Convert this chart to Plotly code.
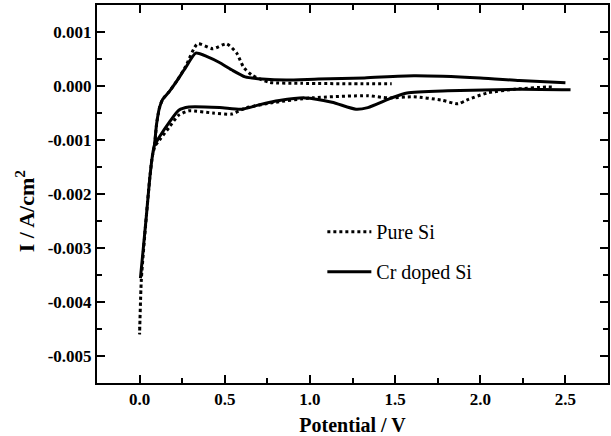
import plotly.graph_objects as go

# ---- Pure Si (dotted): cathodic branch (high -> 0 V), then anodic branch (0 V -> 1.5 V)
pure_cat_x = [2.42, 2.39, 2.20, 2.04, 1.92, 1.87, 1.77, 1.61, 1.46, 1.34, 1.01, 0.80, 0.62, 0.54,
              0.43, 0.29, 0.23, 0.175, 0.117, 0.087, 0.075, 0.06, 0.04, 0.01, 0.0]
pure_cat_y = [-0.00002, -0.00002, -0.00006, -0.00013, -0.00026, -0.00033, -0.00026, -0.00020, -0.00022,
              -0.00018, -0.00022, -0.00030, -0.00041, -0.00052, -0.00050, -0.00046, -0.00054, -0.00076,
              -0.00100, -0.00113, -0.00130, -0.00170, -0.00240, -0.00360, -0.00460]
pure_an_x = [0.0, 0.01, 0.04, 0.06, 0.075, 0.087, 0.10, 0.117, 0.135, 0.175, 0.22, 0.27, 0.34, 0.43,
             0.51, 0.57, 0.61, 0.66, 0.76, 0.95, 1.34, 1.48]
pure_an_y = [-0.00460, -0.00360, -0.00240, -0.00170, -0.00130, -0.00113, -0.00070, -0.00040, -0.00025,
             -0.00010, 0.00010, 0.00036, 0.00078, 0.00069, 0.00078, 0.00061, 0.00035, 0.00020, 0.00007,
             0.00005, 0.00004, 0.00004]

# ---- Cr doped Si (solid)
cr_cat_x = [2.53, 2.23, 1.81, 1.57, 1.48, 1.34, 1.27, 1.13, 0.97, 0.82, 0.70, 0.60, 0.47, 0.29,
            0.23, 0.175, 0.117, 0.087, 0.075, 0.06, 0.04, 0.005]
cr_cat_y = [-0.00007, -0.00006, -0.00009, -0.00013, -0.00022, -0.00040, -0.00043, -0.00030, -0.00022,
            -0.00027, -0.00035, -0.00043, -0.00040, -0.00039, -0.00045, -0.00067, -0.00094, -0.00110,
            -0.00130, -0.00170, -0.00240, -0.00356]
cr_an_x = [0.005, 0.04, 0.06, 0.075, 0.087, 0.10, 0.117, 0.135, 0.175, 0.22, 0.27, 0.33, 0.40, 0.466,
           0.54, 0.62, 0.72, 0.86, 1.05, 1.32, 1.61, 2.00, 2.23, 2.50]
cr_an_y = [-0.00356, -0.00240, -0.00170, -0.00130, -0.00110, -0.00070, -0.00040, -0.00025, -0.00010,
           0.00010, 0.00034, 0.00061, 0.00054, 0.00044, 0.00030, 0.00017, 0.00013, 0.00011, 0.00013,
           0.00015, 0.00019, 0.00015, 0.00010, 0.00006]

x_ticks = [0.0, 0.5, 1.0, 1.5, 2.0, 2.5]
y_ticks = [0.001, 0.0, -0.001, -0.002, -0.003, -0.004, -0.005]

SERIF = "Liberation Serif"

fig = go.Figure()
fig.add_trace(go.Scatter(x=pure_cat_x + pure_an_x, y=pure_cat_y + pure_an_y, mode="lines",
                         name="Pure Si", legendgroup="a",
                         line=dict(color="black", width=3, dash="dot", shape="spline", smoothing=0.6)))
fig.add_trace(go.Scatter(x=cr_cat_x + cr_an_x, y=cr_cat_y + cr_an_y, mode="lines",
                         name="Cr doped Si", legendgroup="b",
                         line=dict(color="black", width=3, shape="spline", smoothing=0.6)))

fig.update_xaxes(range=[-0.25, 2.75], tickvals=x_ticks, ticktext=[f"<b>{v:.1f}</b>" for v in x_ticks],
                 showline=True, linecolor="black", linewidth=2, mirror="ticks",
                 ticks="inside", ticklen=8, tickwidth=1.5, tickcolor="black",
                 showgrid=False, zeroline=False,
                 tickfont=dict(family=SERIF, size=17, color="black"),
                 minor=dict(dtick=0.25, ticks="inside", ticklen=5, tickcolor="black", tickwidth=1.5),
                 title=dict(text="<b>Potential / V</b>", font=dict(family=SERIF, size=20, color="black"),
                            standoff=10))
fig.update_yaxes(range=[-0.0055, 0.0015], tickvals=y_ticks, ticktext=[f"<b>{v:.3f}</b>" for v in y_ticks],
                 showline=True, linecolor="black", linewidth=2, mirror="ticks",
                 ticks="inside", ticklen=8, tickwidth=1.5, tickcolor="black",
                 showgrid=False, zeroline=False,
                 tickfont=dict(family=SERIF, size=17, color="black"),
                 minor=dict(dtick=0.0005, ticks="inside", ticklen=5, tickcolor="black", tickwidth=1.5))

# y-axis title placed as rotated text (sits slightly below the plot centre in the reference)
fig.add_annotation(text="<b>I / A/cm<sup>2</sup></b>", xref="paper", yref="paper",
                   x=-0.1404, y=0.455, xanchor="center", yanchor="middle", textangle=-90,
                   showarrow=False, font=dict(family=SERIF, size=22, color="black"))

fig.update_layout(width=611, height=436, margin=dict(l=97, r=1, t=5, b=53),
                  paper_bgcolor="white", plot_bgcolor="white",
                  font=dict(family=SERIF, color="black"),
                  legend=dict(x=0.441, y=0.452, xanchor="left", yanchor="top",
                              font=dict(family=SERIF, size=20, color="black"),
                              bgcolor="rgba(0,0,0,0)", itemwidth=44,
                              traceorder="grouped", tracegroupgap=11))

fig.write_html("out.html")
